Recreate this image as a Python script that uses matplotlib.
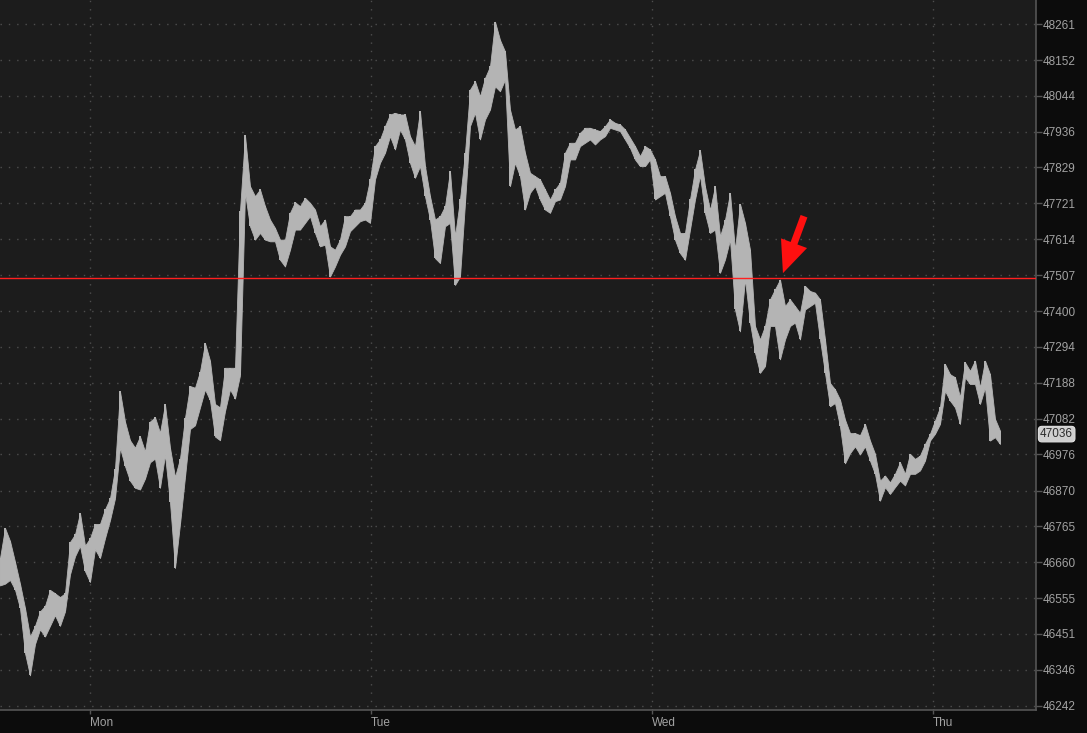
import numpy as np
import matplotlib
matplotlib.use("Agg")
import matplotlib.pyplot as plt
from matplotlib.ticker import FixedLocator, NullLocator

# ---------------- data ----------------
# bar highs / lows (one bar every ~25.6 minutes, starting Sunday evening)
highs = [46672, 46760, 46722, 46661, 46597, 46526, 46443, 46474, 46516, 46532,
         46579, 46569, 46558, 46569, 46719, 46741, 46804, 46708, 46730, 46772,
         46772, 46815, 46847, 46934, 47162, 47073, 47018, 46996, 47029, 46985,
         47073, 47086, 47040, 47124, 46996, 46910, 46964, 47084, 47178, 47173,
         47221, 47305, 47253, 47125, 47115, 47232, 47232, 47232, 47700, 47925,
         47773, 47743, 47763, 47713, 47673, 47648, 47613, 47613, 47693, 47725,
         47713, 47738, 47723, 47703, 47653, 47673, 47593, 47583, 47613, 47683,
         47683, 47703, 47703, 47723, 47793, 47893, 47913, 47953, 47988, 47993,
         47988, 47988, 47923, 47893, 47998, 47833, 47743, 47673, 47683, 47713,
         47818, 47623, 47733, 47873, 48063, 48088, 48043, 48098, 48133, 48268,
         48213, 48178, 48003, 47943, 47953, 47873, 47813, 47803, 47793, 47763,
         47733, 47763, 47783, 47873, 47903, 47903, 47933, 47948, 47948, 47943,
         47938, 47953, 47973, 47963, 47958, 47943, 47918, 47893, 47863, 47893,
         47883, 47853, 47803, 47803, 47753, 47683, 47633, 47633, 47733, 47823,
         47880, 47772, 47702, 47772, 47623, 47672, 47752, 47583, 47720, 47663,
         47583, 47356, 47316, 47356, 47435, 47465, 47494, 47415, 47435, 47415,
         47395, 47475, 47460, 47455, 47435, 47316, 47187, 47168, 47138, 47079,
         47039, 47039, 47033, 47066, 47017, 46978, 46899, 46914, 46894, 46919,
         46953, 46919, 46978, 46963, 46973, 47007, 47037, 47076, 47115, 47243,
         47213, 47204, 47145, 47248, 47223, 47253, 47174, 47253, 47213, 47081,
         47046]
lows = [46592, 46597, 46608, 46580, 46526, 46395, 46330, 46421, 46464, 46443,
        46474, 46505, 46474, 46516, 46624, 46677, 46708, 46634, 46602, 46698,
        46672, 46730, 46783, 46847, 46996, 46942, 46899, 46878, 46873, 46905,
        46953, 46964, 46878, 46975, 46836, 46643, 46772, 46910, 47051, 47062,
        47115, 47168, 47136, 47029, 47018, 47104, 47168, 47141, 47210, 47753,
        47653, 47613, 47633, 47613, 47608, 47608, 47553, 47533, 47583, 47643,
        47643, 47663, 47683, 47633, 47593, 47598, 47503, 47533, 47568, 47593,
        47638, 47653, 47668, 47673, 47663, 47793, 47843, 47873, 47923, 47883,
        47943, 47913, 47843, 47798, 47833, 47743, 47673, 47558, 47543, 47653,
        47663, 47478, 47503, 47723, 47953, 47993, 47913, 47973, 48003, 48073,
        48058, 48093, 47773, 47843, 47803, 47703, 47753, 47773, 47733, 47703,
        47693, 47728, 47733, 47773, 47853, 47853, 47893, 47903, 47913, 47898,
        47913, 47923, 47948, 47943, 47938, 47913, 47888, 47853, 47833, 47833,
        47853, 47733, 47743, 47753, 47683, 47613, 47573, 47553, 47643, 47733,
        47805, 47692, 47633, 47643, 47514, 47554, 47613, 47405, 47340, 47495,
        47366, 47277, 47217, 47237, 47356, 47356, 47257, 47316, 47356, 47366,
        47316, 47405, 47415, 47425, 47316, 47217, 47118, 47128, 47059, 46950,
        46980, 47000, 46976, 47000, 46958, 46919, 46840, 46880, 46860, 46880,
        46899, 46885, 46919, 46919, 46929, 46958, 47017, 47037, 47066, 47164,
        47135, 47115, 47066, 47204, 47184, 47184, 47125, 47174, 47017, 47027,
        47007]
last_price = 47036
level = 47500
arrow_tip = (2.466, 47513)
arrow_tail = (2.541, 47683)

day_labels = ["Mon", "Tue", "Wed", "Thu"]
day_pos = [0, 1, 2, 3]
ytick_vals = [48261, 48152, 48044, 47936, 47829, 47721, 47614, 47507, 47400,
              47294, 47188, 47082, 46976, 46870, 46765, 46660, 46555, 46451,
              46346, 46242]

# time axis (days from Monday 00:00)
start_day = -0.3203
bar_step = 5 / 281.0
t = start_day + np.arange(len(highs)) * bar_step

# ---------------- style ----------------
BG_PLOT = "#1c1c1c"
BG_FIG = "#0c0c0c"
GRID = "#4e4e4e"
TXT = "#a2a2a2"
BAR = "#b4b4b4"

fig = plt.figure(figsize=(10.87, 7.33), dpi=100, facecolor=BG_FIG)
ax = fig.add_axes([0.0, 23 / 733, 1036 / 1087, 710 / 733])
ax.set_facecolor(BG_PLOT)

ax.set_yscale("log")
ax.set_ylim(46229.5, 48333.7)
ax.set_xlim(-90 / 281, (1036 - 90) / 281)

# grid
for v in ytick_vals:
    ax.axhline(v, color=GRID, lw=1.0, ls=(0, (1, 5)), zorder=1)
for d in day_pos:
    ax.axvline(d, color=GRID, lw=1.0, ls=(0, (1, 5)), zorder=1)

# price bars: continuous high/low band plus thin bar strokes
ax.fill_between(t, lows, highs, color=BAR, lw=0.6, edgecolor=BAR, zorder=3)
ax.vlines(t, lows, highs, colors=BAR, lw=1.4, capstyle="butt", zorder=3)

# horizontal level
ax.axhline(level, color="#ff2020", lw=1.0, zorder=4)

# arrow (filled, no outline)
ax.annotate("", xy=arrow_tip, xytext=arrow_tail,
            arrowprops=dict(arrowstyle="simple,head_length=1.15,head_width=1.0,tail_width=0.26",
                            fc="#ff1010", ec="none", lw=0, mutation_scale=20,
                            shrinkA=0, shrinkB=0),
            zorder=6)

# axes cosmetics
for s in ["left", "top"]:
    ax.spines[s].set_visible(False)
for s in ["right", "bottom"]:
    ax.spines[s].set_color("#555555")
    ax.spines[s].set_linewidth(1.2)

ax.yaxis.tick_right()
ax.yaxis.set_major_locator(FixedLocator(ytick_vals))
ax.yaxis.set_minor_locator(NullLocator())
ax.set_yticklabels([str(v) for v in ytick_vals])
ax.tick_params(axis="y", which="major", direction="out", length=4, width=1,
               color="#555555", labelcolor=TXT, labelsize=8.5, pad=1)
ax.tick_params(axis="y", which="minor", length=0)

ax.set_xticks(day_pos)
ax.set_xticklabels(day_labels, ha="left")
ax.tick_params(axis="x", direction="out", length=3, width=1, color="#555555",
               labelcolor=TXT, labelsize=8.5, pad=2)
for lab in ax.get_xticklabels() + ax.get_yticklabels():
    lab.set_fontfamily("Liberation Sans")

# last price label
ax.annotate(str(last_price), xy=(1.0, last_price),
            xycoords=("axes fraction", "data"),
            xytext=(3, 0), textcoords="offset points",
            ha="left", va="center", fontsize=8.5, color="#2a2a2a",
            family="Liberation Sans",
            bbox=dict(boxstyle="round,pad=0.15,rounding_size=0.3",
                      fc="#cfcfcf", ec="#e0e0e0", lw=0.8),
            annotation_clip=False, zorder=10)

fig.savefig("out.png", dpi=100, facecolor=BG_FIG)
